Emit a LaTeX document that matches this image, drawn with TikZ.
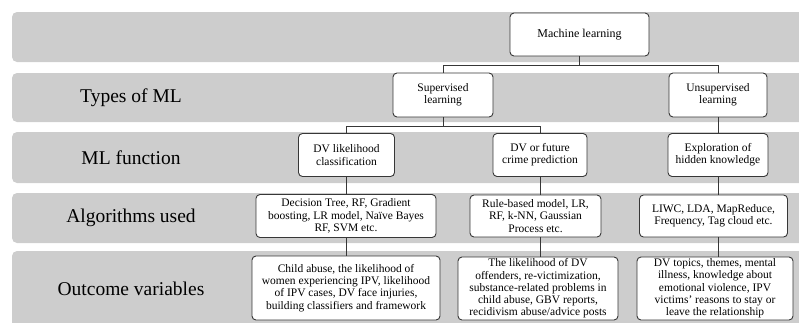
\documentclass[tikz,border=0pt]{standalone}
\usepackage{fontspec}
\setmainfont{Liberation Serif}
\usetikzlibrary{positioning}
\definecolor{bandgray}{RGB}{205,205,205}
\definecolor{edgegray}{RGB}{55,55,55}

\begin{document}
\begin{tikzpicture}[
  x=1pt, y=-1pt,
  band/.style={fill=bandgray, rounded corners=5pt},
  rowlbl/.style={font=\fontsize{19.5}{22}\selectfont, inner sep=0pt},
  box/.style={draw=edgegray, line width=0.9pt, fill=white, rounded corners=4pt,
              align=center, inner sep=1.5pt,
              font=\fontsize{11.5}{12.3}\selectfont},
  link/.style={draw=edgegray, line width=0.9pt},
]
\useasboundingbox (0,0) rectangle (799,322);
\clip (0,0) rectangle (799,322);

% ---- grey row bands ---------------------------------------------
\fill[band] (12,12)  rectangle (815,62);
\fill[band] (12,73)  rectangle (815,122);
\fill[band] (12,132) rectangle (815,183);
\fill[band] (12,193) rectangle (815,243);
\fill[band] (12,251) rectangle (815,340);

% ---- row labels -------------------------------------------------
\node[rowlbl] (lbltypes) at (131,97.5)  {Types of ML};
\node[rowlbl] (lblfunc)  at (131,157.5) {ML function};
\node[rowlbl] (lblalgo)  at (131,217.5) {Algorithms used};
\node[rowlbl] (lblout)   at (131,289)   {Outcome variables};

% ---- tree -------------------------------------------------------
\node[box, minimum width=139pt, minimum height=43pt,
      font=\fontsize{12}{13}\selectfont] (ml) at (579.5,34.5) {Machine learning};
\node[box, minimum width=100pt, minimum height=44pt] (superv)   at (443,95) {Supervised\\learning};
\node[box, minimum width=98pt,  minimum height=44pt] (unsuperv) at (718,95) {Unsupervised\\learning};

\node[box, minimum width=96pt,  minimum height=43pt] (classif) at (346.5,155) {DV likelihood\\classification};
\node[box, minimum width=94pt,  minimum height=43pt] (predict) at (540,155)   {DV or future\\crime prediction};
\node[box, minimum width=100pt, minimum height=43pt] (explore) at (718,155)   {Exploration of\\hidden knowledge};

\node[box, minimum width=180pt, minimum height=43pt] (algclass) at (346,216) {Decision Tree, RF, Gradient\\boosting, LR model, Naïve Bayes\\RF, SVM etc.};
\node[box, minimum width=131pt, minimum height=42pt] (algpred)  at (535.5,216) {Rule-based model, LR,\\RF, k-NN, Gaussian\\Process etc.};
\node[box, minimum width=148pt, minimum height=42pt] (algexpl)  at (713.5,216) {LIWC, LDA, MapReduce,\\Frequency, Tag cloud etc.};

\node[box, minimum width=188pt, minimum height=64pt] (outclass) at (346,288) {Child abuse, the likelihood of\\women experiencing IPV, likelihood\\of IPV cases, DV face injuries,\\building classifiers and framework};
\node[box, minimum width=160pt, minimum height=63pt] (outpred)  at (538,288.5) {The likelihood of DV\\offenders, re-victimization,\\substance-related problems in\\child abuse, GBV reports,\\recidivism abuse/advice posts};
\node[box, minimum width=156pt, minimum height=63pt] (outexpl)  at (715,288.5) {DV topics, themes, mental\\illness, knowledge about\\emotional violence, IPV\\victims' reasons to stay or\\leave the relationship};

% ---- connectors -------------------------------------------------
\draw[link] (ml.south) -- ++(0,9) coordinate (mlsplit) -| (superv.north);
\draw[link] (mlsplit) -| (unsuperv.north);
\draw[link] (superv.south) -- ++(0,9) coordinate (supsplit) -| (classif.north);
\draw[link] (supsplit) -| (predict.north);
\draw[link] (unsuperv) -- (explore);

\draw[link] (classif.south) -- (classif.south |- algclass.north);
\draw[link] (predict.south) -- (predict.south |- algpred.north);
\draw[link] (explore.south) -- (explore.south |- algexpl.north);

\draw[link] (algclass) -- (outclass);
\draw[link] (predict.south |- algpred.south) -- (predict.south |- outpred.north);
\draw[link] (explore.south |- algexpl.south) -- (explore.south |- outexpl.north);

\end{tikzpicture}
\end{document}
